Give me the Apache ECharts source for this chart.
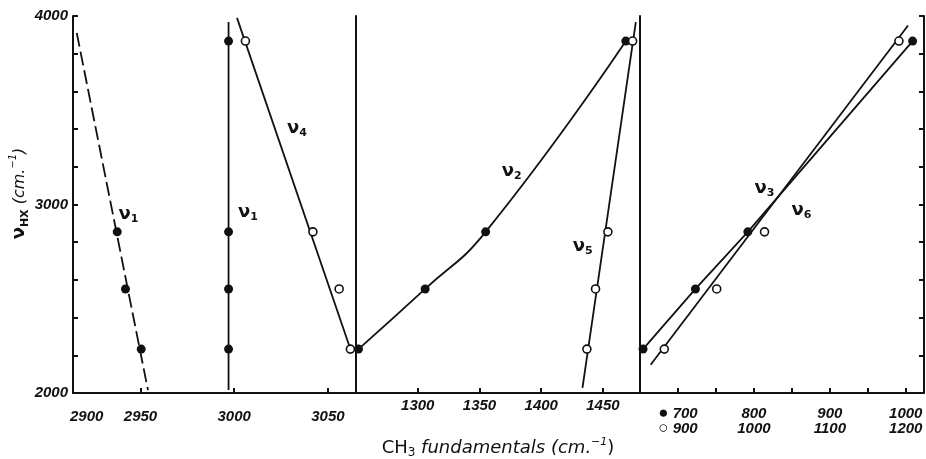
<!DOCTYPE html>
<html>
<head>
<meta charset="utf-8">
<script src="https://cdn.jsdelivr.net/npm/echarts@6.0.0/dist/echarts.min.js"></script>
<style>
  html, body { margin: 0; padding: 0; background: #fff; }
  #chart { width: 926px; height: 459px; }
</style>
</head>
<body>
<div id="chart"></div>
<script>
// HX stretching frequencies (cm-1), shared by every panel: HF, HCl, HBr, HI
var hx = [3867, 2855, 2552, 2233];

// panel 1 (CH3 stretching region)
var nu1aX = [2937.6, 2942, 2950.4];          // dashed nu1, HCl..HI only
var nu1aLineX = [2916, 2954], nu1aLineY = [3910, 2015];
var nu1bX = [2997, 2997, 2997, 2997];
var nu1bLineX = [2997, 2997], nu1bLineY = [3968, 2016];
var nu4X = [3006, 3042, 3056, 3062];
var nu4LineX = [3001.5, 3062], nu4LineY = [3990, 2233];

// panel 2 (deformation region)
var nu2X = [1468.5, 1355, 1306, 1252];
var nu5X = [1474, 1454, 1444, 1437];
var nu5LineX = [1433.4, 1476.6], nu5LineY = [2027, 3968];

// panel 3 (rocking region, filled on lower scale, open on upper scale)
var nu3X = [1009, 792, 723, 654];
var nu6X = [1191, 1014, 951, 882];
var nu6LineX = [864, 1203], nu6LineY = [2150, 3950];

// ticks / labels
var yTicks = [2000, 2200, 2400, 2600, 2800, 3000, 3200, 3400, 3600, 3800, 4000];
var yLabels = [2000, 3000, 4000];
var p1Ticks = [2950, 3000, 3050];
var p2Ticks = [1300, 1350, 1400, 1450];
var p3Ticks = [700, 750, 800, 850, 900, 950, 1000];
var p3Labels = [700, 800, 900, 1000];
var p3bLabels = [900, 1000, 1100, 1200];

function zip(xs, ys) {
  return xs.map(function (x, i) { return [x, ys[i]]; });
}

var ink = '#111';
var axLine = { show: true, onZero: false, lineStyle: { color: ink, width: 2 } };
var tickFont = { color: ink, fontStyle: 'italic', fontWeight: 'bold', fontSize: 15,
  fontFamily: 'Liberation Sans', lineHeight: 15 };
var plain = function (v) { return String(v); };
var nuRich = {
  n: { fontFamily: 'DejaVu Sans', fontWeight: 'bold', fontSize: 18, color: ink, lineHeight: 22 },
  s: { fontFamily: 'DejaVu Sans', fontWeight: 'bold', fontSize: 11, color: ink, verticalAlign: 'bottom', lineHeight: 22, padding: [6, 0, 0, 0] }
};

function nuMark(sub, x, y) {
  return {
    symbol: 'circle', symbolSize: 1, itemStyle: { color: 'transparent' },
    silent: true, animation: false,
    label: { show: true, position: 'inside', formatter: '{n|ν}{s|' + sub + '}', rich: nuRich },
    data: [{ coord: [x, y] }]
  };
}

function fitLine(xi, yi, xs, ys, dashed, mark) {
  return {
    type: 'line', xAxisIndex: xi, yAxisIndex: yi, data: zip(xs, ys),
    showSymbol: false, symbol: 'none', clip: false, animation: false,
    lineStyle: { color: ink, width: 1.8, type: dashed ? [14, 5] : 'solid' },
    markPoint: mark
  };
}

function dots(xi, yi, xs, ys, filled) {
  return {
    type: 'scatter', xAxisIndex: xi, yAxisIndex: yi, data: zip(xs, ys),
    symbol: 'circle', symbolSize: filled ? 9 : 8, clip: false, animation: false,
    itemStyle: filled ? { color: ink, opacity: 1 } : { color: '#fff', borderColor: ink, borderWidth: 1.6, opacity: 1 },
    z: 5
  };
}

var option = {
  backgroundColor: '#fff',
  animation: false,
  grid: [
    { left: 73, top: 16, width: 283, height: 377, outerBoundsMode: 'none' },
    { left: 356, top: 16, width: 284, height: 377, outerBoundsMode: 'none' },
    { left: 640, top: 16, width: 284, height: 377, outerBoundsMode: 'none' }
  ],
  xAxis: [
    {
      gridIndex: 0, type: 'value', min: 2914, max: 3065,
      axisLine: axLine,
      axisTick: { show: true, inside: true, length: 5, customValues: p1Ticks, lineStyle: { color: ink, width: 2 } },
      axisLabel: Object.assign({ customValues: p1Ticks, margin: 16, formatter: plain }, tickFont),
      splitLine: { show: false }
    },
    {
      gridIndex: 1, type: 'value', min: 1250, max: 1480,
      axisLine: axLine,
      axisTick: { show: true, inside: true, length: 5, customValues: p2Ticks, lineStyle: { color: ink, width: 2 } },
      axisLabel: Object.assign({ customValues: p2Ticks, margin: 5, formatter: plain }, tickFont),
      splitLine: { show: false },
      name: '{r|CH}{sb|3}{i| fundamentals (cm.}{sp|−1}{r|)}',
      nameLocation: 'middle', nameGap: 44,
      nameTextStyle: {
        rich: {
          r: { fontFamily: 'DejaVu Sans', fontSize: 18, color: ink, lineHeight: 22 },
          i: { fontFamily: 'DejaVu Sans', fontStyle: 'italic', fontSize: 18, color: ink, lineHeight: 22 },
          sb: { fontFamily: 'DejaVu Sans', fontSize: 12, color: ink, verticalAlign: 'bottom', lineHeight: 22, padding: [6, 0, 0, 0] },
          sp: { fontFamily: 'DejaVu Sans', fontStyle: 'italic', fontSize: 11, color: ink, verticalAlign: 'top', lineHeight: 22 }
        }
      }
    },
    {
      gridIndex: 2, type: 'value', min: 650, max: 1024,
      axisLine: axLine,
      axisTick: { show: true, inside: true, length: 5, customValues: p3Ticks, lineStyle: { color: ink, width: 2 } },
      axisLabel: Object.assign({
        customValues: p3Labels, margin: 13,
        formatter: function (v) { return v === 700 ? '{b|●} 700' : String(v); },
        rich: { b: { fontSize: 17, color: ink, lineHeight: 15 } }
      }, tickFont),
      splitLine: { show: false }
    },
    {
      gridIndex: 2, type: 'value', min: 850, max: 1224, position: 'bottom',
      axisLine: { show: false, onZero: false }, axisTick: { show: false },
      axisLabel: Object.assign({
        customValues: p3bLabels, margin: 28,
        formatter: function (v) { return v === 900 ? '{b|○} 900' : String(v); },
        rich: { b: { fontSize: 17, color: ink, lineHeight: 15 } }
      }, tickFont),
      splitLine: { show: false }
    }
  ],
  yAxis: [
    {
      gridIndex: 0, type: 'value', min: 2000, max: 4000,
      axisLine: axLine,
      axisTick: { show: true, inside: true, length: 5, customValues: yTicks, lineStyle: { color: ink, width: 2 } },
      axisLabel: Object.assign({ customValues: yLabels, margin: 5, formatter: plain }, tickFont),
      splitLine: { show: false },
      name: '{n|ν}{sb|HX}{i| (cm.}{sp|−1}{i|)}',
      nameLocation: 'middle', nameGap: 42, nameRotate: 90,
      nameTextStyle: {
        padding: [0, 0, 0, 22],
        rich: {
          n: { fontFamily: 'DejaVu Sans', fontWeight: 'bold', fontSize: 18, color: ink, lineHeight: 22 },
          sb: { fontFamily: 'DejaVu Sans', fontWeight: 'bold', fontSize: 11, color: ink, verticalAlign: 'bottom', lineHeight: 22, padding: [6, 0, 0, 0] },
          i: { fontFamily: 'DejaVu Sans', fontStyle: 'italic', fontSize: 16, color: ink, lineHeight: 22 },
          sp: { fontFamily: 'DejaVu Sans', fontStyle: 'italic', fontSize: 10, color: ink, verticalAlign: 'top', lineHeight: 22 }
        }
      }
    },
    {
      gridIndex: 1, type: 'value', min: 2000, max: 4000,
      axisLine: axLine, axisTick: { show: false }, axisLabel: { show: false }, splitLine: { show: false }
    },
    {
      gridIndex: 2, type: 'value', min: 2000, max: 4000,
      axisLine: axLine, axisTick: { show: false }, axisLabel: { show: false }, splitLine: { show: false }
    },
    {
      gridIndex: 2, type: 'value', min: 2000, max: 4000, position: 'right',
      axisLine: axLine,
      axisTick: { show: true, inside: true, length: 5, customValues: yTicks, lineStyle: { color: ink, width: 2 } },
      axisLabel: { show: false }, splitLine: { show: false }
    }
  ],
  graphic: [
    // stray "2900" label of the original, sitting left of the first tick
    { type: 'text', left: 70, top: 409, style: { text: '2900', fill: ink, font: 'italic bold 15px "Liberation Sans"' } }
  ],
  series: [
    // panel 1
    fitLine(0, 0, nu1aLineX, nu1aLineY, true, nuMark('1', 2943.6, 2950)),
    dots(0, 0, nu1aX, hx.slice(1), true),
    fitLine(0, 0, nu1bLineX, nu1bLineY, false, nuMark('1', 3007.4, 2960)),
    dots(0, 0, nu1bX, hx, true),
    fitLine(0, 0, nu4LineX, nu4LineY, false, nuMark('4', 3033.5, 3406)),
    dots(0, 0, nu4X, hx, false),
    // panel 2
    {
      type: 'line', xAxisIndex: 1, yAxisIndex: 1, data: zip(nu2X, hx).reverse(),
      smooth: 0.5, showSymbol: false, symbol: 'none', clip: false,
      lineStyle: { color: ink, width: 1.8 },
      markPoint: nuMark('2', 1376, 3178)
    },
    dots(1, 1, nu2X, hx, true),
    fitLine(1, 1, nu5LineX, nu5LineY, false, nuMark('5', 1433.6, 2780)),
    dots(1, 1, nu5X, hx, false),
    // panel 3
    {
      type: 'line', xAxisIndex: 2, yAxisIndex: 2, data: zip(nu3X, hx),
      showSymbol: false, symbol: 'none', clip: false,
      lineStyle: { color: ink, width: 1.8 },
      markPoint: nuMark('3', 814, 3088)
    },
    dots(2, 2, nu3X, hx, true),
    fitLine(3, 2, nu6LineX, nu6LineY, false, nuMark('6', 1062.5, 2971)),
    dots(3, 2, nu6X, hx, false)
  ]
};

var chart = echarts.init(document.getElementById('chart'), null, { renderer: 'canvas' });
chart.setOption(option);
</script>
</body>
</html>
